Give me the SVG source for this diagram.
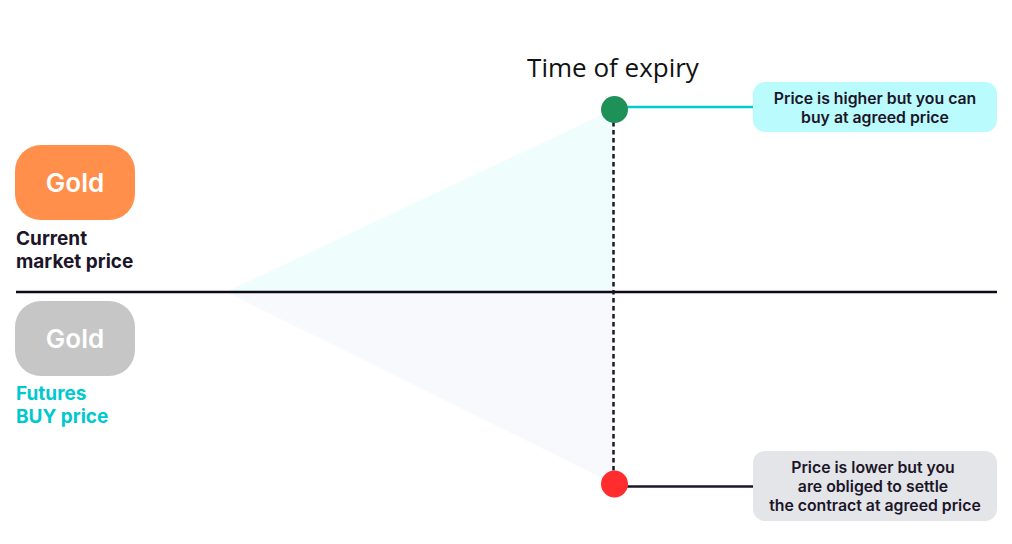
<svg xmlns="http://www.w3.org/2000/svg" width="1012" height="544" viewBox="0 0 1012 544">
<style>
text{font-family:Inter,"Liberation Sans",sans-serif;text-anchor:middle}
.n{font-size:15.800px;font-weight:600;fill:#1c1528}
.g{font-size:26px;font-weight:600;fill:#fff}
.l{font-size:19px;font-weight:700;text-anchor:start}
</style>
<rect width="1012" height="544" fill="#fff"/>
<g id="cones">
<polygon points="226,292 614,109 614,292" fill="#f0fdfd"/>
<polygon points="226,292 614,292 614,484" fill="#f7f9fc"/>
</g>
<g id="connectors">
<line x1="16" y1="292" x2="997" y2="292" stroke="#0f0a1a" stroke-width="2.500"/>
<line x1="613.500" y1="122" x2="613.500" y2="472" stroke="#1c1528" stroke-width="2.500" stroke-dasharray="4.500 3.500"/>
<line x1="626" y1="107" x2="754" y2="107" stroke="#00cccc" stroke-width="2.500"/>
<line x1="626" y1="486.500" x2="754" y2="486.500" stroke="#1c1528" stroke-width="2.500"/>
</g>
<g id="gold-current"><rect x="15" y="145" width="120" height="75" rx="26" fill="#ff8f4b"/><text class="g" x="75" y="192">Gold</text></g>
<g id="label-current"><text class="l" x="16" y="245" fill="#1c1528">Current</text><text class="l" x="16" y="268" fill="#1c1528">market price</text></g>
<g id="gold-futures"><rect x="15" y="301" width="120" height="75" rx="26" fill="#c6c6c6"/><text class="g" x="75" y="348">Gold</text></g>
<g id="label-futures"><text class="l" x="16" y="400" fill="#00c8cf">Futures</text><text class="l" x="16" y="423" fill="#00c8cf">BUY price</text></g>
<g id="title"><text x="613" y="77" style="font-family:'Open Sans','Liberation Sans',sans-serif" font-size="26" fill="#111">Time of expiry</text></g>
<g id="dot-high"><circle cx="614.500" cy="109.500" r="13.500" fill="#1e9158"/></g>
<g id="dot-low"><circle cx="614.500" cy="484" r="13.500" fill="#ff2d2d"/></g>
<g id="box-high"><rect x="753" y="82" width="244" height="50" rx="12" fill="#bafbfd"/><text class="n" x="875" y="103.500">Price is higher but you can</text><text class="n" x="875" y="122.500">buy at agreed price</text></g>
<g id="box-low"><rect x="753" y="451" width="244" height="70" rx="12" fill="#e3e5e9"/><text class="n" x="873" y="473">Price is lower but you</text><text class="n" x="873" y="492">are obliged to settle</text><text class="n" x="875" y="511">the contract at agreed price</text></g>
</svg>
